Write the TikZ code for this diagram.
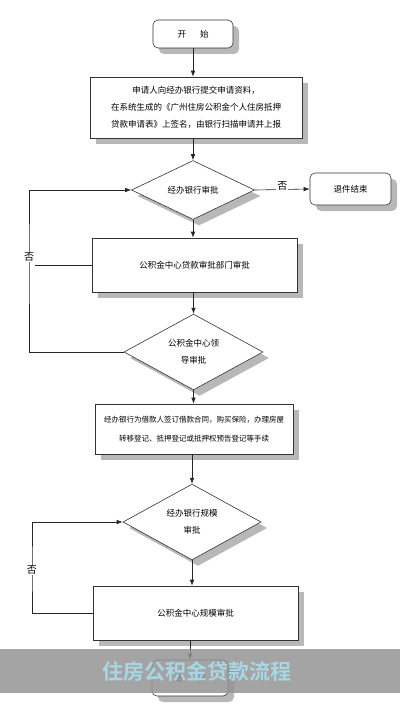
\documentclass[tikz,border=0pt]{standalone}
\usepackage{fontspec}
\setmainfont{Noto Sans CJK SC}[BoldFont={Noto Sans CJK SC Bold}]
\usetikzlibrary{shapes.geometric}
\usetikzlibrary{shadows}
\usetikzlibrary{arrows.meta}
\definecolor{titleblue}{RGB}{168,214,228}
\tikzset{%
    shadowed/.style={drop shadow={shadow xshift=6pt,shadow yshift=-6pt,fill=black!28,opacity=1}},
    proc/.style={draw=black!80,fill=white,line width=0.6pt,inner sep=0pt,align=center,
        font=\fontsize{8.5}{17}\selectfont,shadowed},
    term/.style={proc,rounded corners=5pt},
    decide/.style={proc,diamond},
    nolab/.style={fill=white,inner sep=1pt,font=\fontsize{10}{12}\selectfont},
    flow/.style={-{Latex[length=6pt,width=4.5pt]},draw=black!85,line width=0.6pt}
}

\begin{document}
\begin{tikzpicture}[x=1pt,y=-1pt]
    \useasboundingbox (0,0) rectangle (400,714);
    \node[term,minimum width=80pt,minimum height=28pt] (start) at (193,34) {开\hspace{14pt}始};
    \node[proc,minimum width=212pt,minimum height=61pt] (apply) at (196,107.5)
        {申请人向经办银行提交申请资料，\\在系统生成的《广州住房公积金个人住房抵押\\贷款申请表》上签名，由银行扫描申请并上报};
    \node[decide,minimum width=123pt,minimum height=56pt] (bank) at (193,190) {经办银行审批};
    \node[term,minimum width=81pt,minimum height=32pt] (reject) at (350.5,189) {退件结束};
    \node[proc,minimum width=205pt,minimum height=54pt] (dept) at (194.5,265) {公积金中心贷款审批部门审批};
    \node[decide,minimum width=139pt,minimum height=71pt] (lead) at (193.5,352) {公积金中心领\\导审批};
    \node[proc,minimum width=198pt,minimum height=50pt,font=\fontsize{7.5}{19}\selectfont] (sign) at (194,429)
        {经办银行为借款人签订借款合同，购买保险，办理房屋\\转移登记、抵押登记或抵押权预告登记等手续};
    \node[decide,minimum width=138pt,minimum height=71pt] (bankscale) at (192,522) {经办银行规模\\审批};
    \node[proc,minimum width=205pt,minimum height=54pt] (centrescale) at (195.5,613) {公积金中心规模审批};
    \node[term,minimum width=76pt,minimum height=36pt] (finish) at (190,678) {结\hspace{14pt}束};
    % main flow
    \path[every edge/.style={flow}]
        (start.south) edge (start.south |- apply.north)
        (apply.south -| bank.north) edge (bank.north)
        (bank.south) edge (bank.south |- dept.north)
        (dept.south -| lead.north) edge (lead.north)
        (lead.south) edge (lead.south |- sign.north)
        (sign.south -| bankscale.north) edge (bankscale.north)
        (bankscale.south) edge (bankscale.south |- centrescale.north)
        (centrescale.south -| finish.north) edge (finish.north)
        (bank.east) edge node[nolab,yshift=4pt]{否} (reject.west);
    % loops back, with their no-labels
    \coordinate (loop1) at (29,257);
    \coordinate (loop2) at (32,570);
    \draw[flow] (lead.west) -| (loop1) |- (bank.west);
    \draw[flow] (centrescale.west) -| (loop2) |- (bankscale.west);
    \node[nolab] (no1) at (loop1) {否};
    \node[nolab] (no2) at (loop2) {否};
    \draw[line width=0.6pt,draw=black!85] (dept.west) -- (dept.west -| no1.east);
    % title band
    \fill[black!42,opacity=0.85] (0,649) rectangle (400,693);
    \node[text=titleblue,font=\fontsize{21}{24}\bfseries] (title) at (197,671) {住房公积金贷款流程};
\end{tikzpicture}
\end{document}
